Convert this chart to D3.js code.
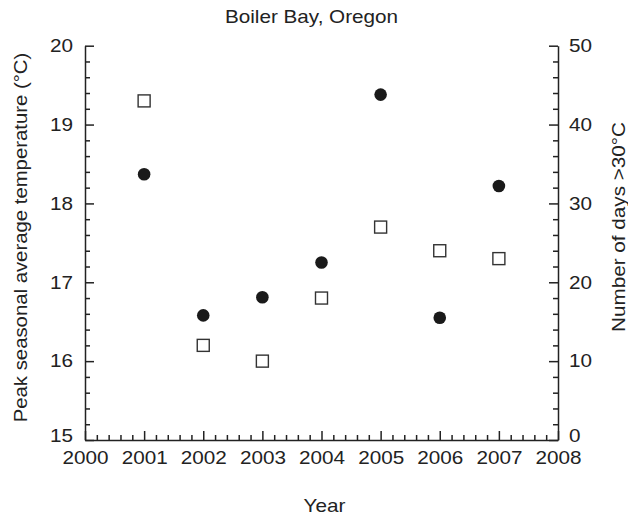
<!DOCTYPE html>
<html>
<head>
<meta charset="utf-8">
<script src="https://cdn.jsdelivr.net/npm/d3@7"></script>
<style>
  body { margin: 0; background: #fff; }
  text { font-family: "Liberation Sans", Arial, sans-serif; fill: #222; }
  .axis path, .axis line { stroke: #222; stroke-width: 1.5; }
</style>
</head>
<body>
<div id="chart"></div>
<script>
/* CONSTANTS AND GLOBALS */
const width = 628,
  height = 515,
  margin = { top: 45.7, bottom: 75, left: 85, right: 70 },
  stretch = 1.15, // reference font is a bit wider than Arial
  fontSize = 18;

/* DATA */
const years = [2001, 2002, 2003, 2004, 2005, 2006, 2007];
const peakTemp = [18.37, 16.58, 16.81, 17.25, 19.38, 16.55, 18.22];
const daysOver30 = [43, 12, 10, 18, 27, 24, 23];
const yearTicks = [2000, 2001, 2002, 2003, 2004, 2005, 2006, 2007, 2008];
const tempTicks = [15, 16, 17, 18, 19, 20];
const dayTicks = [0, 10, 20, 30, 40, 50];

const svg = d3.select("#chart")
  .append("svg")
  .attr("width", width)
  .attr("height", height);

// scales
const xScale = d3.scaleLinear()
  .domain([2000, 2008])
  .range([margin.left, width - margin.right]);

const yScale = d3.scaleLinear()
  .domain([15, 20])
  .range([height - margin.bottom, margin.top]);

const y2Scale = d3.scaleLinear()
  .domain([0, 50])
  .range([height - margin.bottom, margin.top]);

// minor ticks
const xMinor = d3.range(2000, 2008.001, 0.2).filter(d => Math.abs(d - Math.round(d)) > 0.01);
const yMinor = d3.range(15, 20.001, 0.2).filter(d => Math.abs(d - Math.round(d)) > 0.01);
const y2Minor = d3.range(0, 50.001, 2).filter(d => d % 10 !== 0);

// stretch tick labels horizontally so they match the reference width
function stretchLabels(g) {
  g.selectAll(".tick text")
    .attr("font-size", fontSize)
    .attr("x", function() { return (+d3.select(this).attr("x") || 0) / stretch; })
    .attr("transform", `scale(${stretch},1)`);
}

// the lowest y labels sit a bit above their tick, clear of the year labels
function liftBottom(g) {
  g.selectAll(".tick:first-of-type text").attr("y", -4);
}

// bottom axis
svg.append("g")
  .attr("class", "axis x-axis")
  .attr("transform", `translate(0,${height - margin.bottom})`)
  .call(d3.axisBottom(xScale).tickValues(xMinor).tickSize(-5).tickSizeOuter(0).tickFormat(""))
  .call(g => g.select(".domain").remove());

svg.append("g")
  .attr("class", "axis x-axis")
  .attr("transform", `translate(0,${height - margin.bottom})`)
  .call(d3.axisBottom(xScale).tickValues(yearTicks).tickSize(-9).tickSizeOuter(0)
    .tickPadding(11).tickFormat(d3.format("d")))
  .call(stretchLabels);

// left axis
svg.append("g")
  .attr("class", "axis y-axis")
  .attr("transform", `translate(${margin.left},0)`)
  .call(d3.axisLeft(yScale).tickValues(yMinor).tickSize(-5).tickSizeOuter(0).tickFormat(""))
  .call(g => g.select(".domain").remove());

svg.append("g")
  .attr("class", "axis y-axis")
  .attr("transform", `translate(${margin.left},0)`)
  .call(d3.axisLeft(yScale).tickValues(tempTicks).tickSize(-9).tickSizeOuter(0)
    .tickPadding(12).tickFormat(d3.format("d")))
  .call(stretchLabels)
  .call(liftBottom);

// right axis
svg.append("g")
  .attr("class", "axis y2-axis")
  .attr("transform", `translate(${width - margin.right},0)`)
  .call(d3.axisRight(y2Scale).tickValues(y2Minor).tickSize(-5).tickSizeOuter(0).tickFormat(""))
  .call(g => g.select(".domain").remove());

svg.append("g")
  .attr("class", "axis y2-axis")
  .attr("transform", `translate(${width - margin.right},0)`)
  .call(d3.axisRight(y2Scale).tickValues(dayTicks).tickSize(-9).tickSizeOuter(0)
    .tickPadding(11).tickFormat(d3.format("d")))
  .call(stretchLabels)
  .call(liftBottom);

// titles
svg.append("text")
  .attr("transform", `translate(311.5,23.3) scale(${stretch},1)`)
  .attr("text-anchor", "middle")
  .attr("font-size", fontSize)
  .text("Boiler Bay, Oregon");

svg.append("text")
  .attr("transform", `translate(324.5,511.5) scale(${stretch},1)`)
  .attr("text-anchor", "middle")
  .attr("font-size", fontSize)
  .text("Year");

svg.append("text")
  .attr("transform", `translate(27,237.5) rotate(-90) scale(1.13,1)`)
  .attr("text-anchor", "middle")
  .attr("font-size", fontSize)
  .text("Peak seasonal average temperature (°C)");

svg.append("text")
  .attr("transform", `translate(625,227) rotate(-90) scale(${stretch},1)`)
  .attr("text-anchor", "middle")
  .attr("font-size", fontSize)
  .text("Number of days >30°C");

// days > 30 (open squares, right axis)
svg.selectAll(".sq")
  .data(years.map((d, i) => ({ year: d, value: daysOver30[i] })))
  .join("rect")
  .attr("class", "sq")
  .attr("x", d => xScale(d.year) - 6)
  .attr("y", d => y2Scale(d.value) - 6)
  .attr("width", 12)
  .attr("height", 12)
  .attr("fill", "#fff")
  .attr("stroke", "#333")
  .attr("stroke-width", 1.4);

// peak temperature (filled circles, left axis)
svg.selectAll(".dot")
  .data(years.map((d, i) => ({ year: d, value: peakTemp[i] })))
  .join("circle")
  .attr("class", "dot")
  .attr("cx", d => xScale(d.year))
  .attr("cy", d => yScale(d.value))
  .attr("r", 6.3)
  .attr("fill", "#1a1a1a");
</script>
</body>
</html>
